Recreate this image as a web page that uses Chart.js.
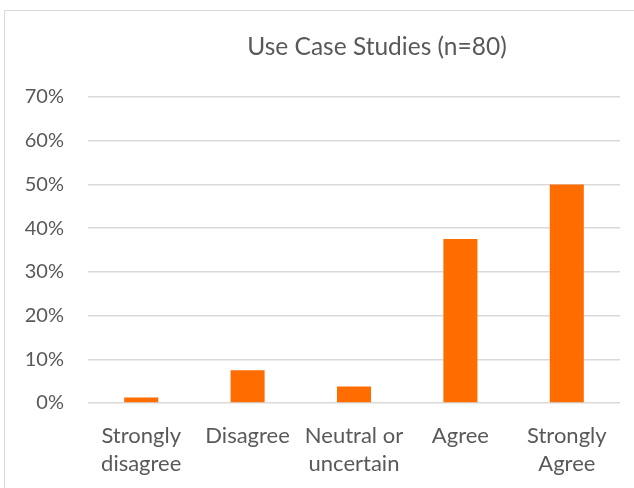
<!DOCTYPE html>
<html>
<head>
<meta charset="utf-8">
<script src="https://cdn.jsdelivr.net/npm/chart.js@4/dist/chart.umd.min.js"></script>
<style>
  html, body { margin: 0; padding: 0; background: #fff; overflow: hidden; }
  #wrap { position: relative; width: 634px; height: 488px; }
  #frame { position: absolute; left: 4px; top: 10px; width: 700px; height: 600px;
           border: 1px solid #d9d9d9; box-sizing: border-box; }
  canvas { position: absolute; left: 0; top: 0; }
</style>
</head>
<body>
<div id="wrap">
  <div id="frame"></div>
  <canvas id="c" width="634" height="488"></canvas>
</div>
<script>
const chartTitle = 'Use Case Studies (n=80)';
const categories = [
  ['Strongly', 'disagree'],
  'Disagree',
  ['Neutral or', 'uncertain'],
  'Agree',
  ['Strongly', 'Agree']
];
const shares = [0.0125, 0.075, 0.0375, 0.375, 0.50];
const yTicks = [0, 0.1, 0.2, 0.3, 0.4, 0.5, 0.6, 0.7];

const FONT = 'Lato, "Open Sans", sans-serif';
const TEXT = '#595959';

// Title drawn centred over the chart body
const titlePlugin = {
  id: 'centredTitle',
  afterDraw(chart) {
    const ctx = chart.ctx;
    ctx.save();
    ctx.font = '24.5px ' + FONT;
    ctx.fillStyle = TEXT;
    ctx.textAlign = 'center';
    ctx.textBaseline = 'middle';
    ctx.fillText(chartTitle, 377, 47);
    ctx.restore();
  }
};

new Chart(document.getElementById('c'), {
  type: 'bar',
  data: {
    labels: categories,
    datasets: [{
      data: shares,
      backgroundColor: '#ff6d00',
      borderWidth: 0,
      barPercentage: 0.32,
      categoryPercentage: 1
    }]
  },
  options: {
    responsive: false,
    animation: false,
    layout: { padding: { left: 0, right: 14, top: 97, bottom: 0 } },
    plugins: { legend: { display: false }, tooltip: { enabled: false } },
    scales: {
      x: {
        grid: { display: false, drawTicks: false },
        border: { display: false },
        ticks: { color: TEXT, font: { family: FONT, size: 22, lineHeight: 1.27 }, padding: 19, maxRotation: 0, autoSkip: false },
        afterFit(scale) { scale.height = 85; }
      },
      y: {
        min: 0,
        max: 0.7,
        afterBuildTicks(scale) { scale.ticks = yTicks.map(v => ({ value: v })); },
        grid: { color: '#d9d9d9', lineWidth: 1.5, drawTicks: false },
        border: { display: false },
        ticks: {
          color: TEXT,
          font: { family: FONT, size: 20 },
          padding: 24,
          callback: v => Math.round(v * 100) + '%'
        },
        afterFit(scale) { scale.width = 88; }
      }
    }
  },
  plugins: [titlePlugin]
});
</script>
</body>
</html>
